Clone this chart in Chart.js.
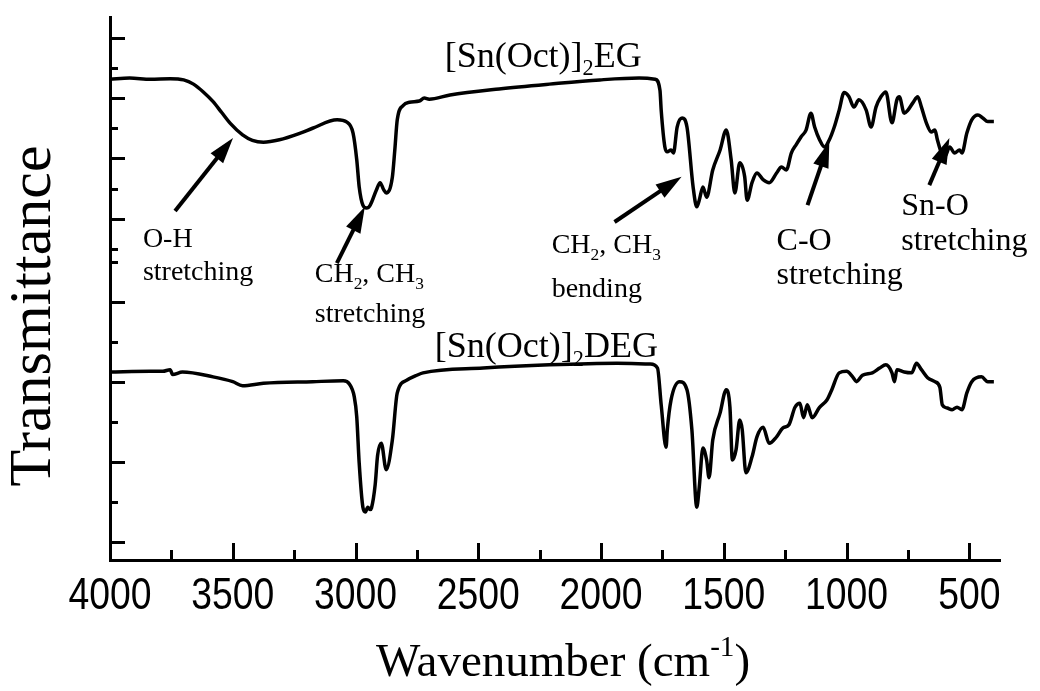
<!DOCTYPE html>
<html>
<head>
<meta charset="utf-8">
<script src="https://cdn.jsdelivr.net/npm/chart.js@4.4.1/dist/chart.umd.min.js"></script>
<style>
  html, body { margin: 0; padding: 0; background: #fff; }
  canvas { display: block; }
</style>
</head>
<body>
<canvas id="ftir" width="1040" height="691"></canvas>
<script>
// FTIR spectra (wavenumber in cm-1, transmittance in a.u. of each layer)
const egWavenumber = [4000, 3920, 3835, 3755, 3700, 3660, 3620, 3580, 3545, 3510, 3460, 3420, 3375, 3310, 3225, 3175, 3075, 3035, 3010, 2995, 2985,
    2970, 2955, 2940, 2915, 2900, 2885, 2875, 2850, 2840, 2830, 2805, 2780, 2740, 2720, 2700, 2615, 2415, 2210, 2005, 1845,
    1780, 1760, 1755, 1740, 1730, 1715, 1705, 1690, 1670, 1650, 1625, 1610, 1600, 1585, 1570, 1545, 1515, 1490, 1470, 1455,
    1435, 1415, 1405, 1385, 1365, 1340, 1315, 1285, 1265, 1245, 1225, 1205, 1185, 1165, 1145, 1130, 1110, 1090, 1070, 1050,
    1030, 1010, 990, 970, 950, 920, 900, 880, 860, 840, 815, 795, 785, 765, 750, 730, 710, 695, 675, 655,
    640, 630, 615, 600, 580, 560, 540, 530, 510, 490, 465, 445, 425, 400];
const egTransmittance = [33.1, 33.3, 33.1, 33.2, 33.0, 32.3, 31.0, 29.4, 27.6, 25.8, 23.9, 23.0, 22.7, 23.1, 24.2, 25.0, 26.4, 26.0, 24.2, 19.8, 15.3,
    12.3, 11.8, 12.3, 14.8, 16.0, 14.8, 14.3, 16.9, 21.4, 26.4, 28.8, 29.3, 29.5, 30.0, 29.8, 30.5, 31.5, 32.3, 33.0, 33.3,
    33.1, 31.3, 28.0, 21.9, 21.1, 21.4, 20.9, 25.2, 26.7, 25.2, 15.3, 12.0, 13.1, 15.3, 13.6, 18.1, 21.4, 24.7, 19.8, 14.3,
    19.3, 17.0, 13.1, 16.0, 17.6, 16.5, 16.0, 17.6, 18.6, 18.1, 20.9, 22.3, 23.6, 24.7, 27.5, 25.2, 23.1, 21.9, 23.1, 25.2,
    28.0, 30.9, 30.2, 28.5, 29.7, 28.0, 25.2, 28.5, 30.2, 31.0, 25.9, 29.7, 30.2, 27.5, 28.0, 29.2, 30.2, 28.5, 25.9, 24.4,
    24.7, 23.1, 21.1, 20.3, 21.9, 20.9, 21.4, 20.9, 24.2, 26.4, 27.2, 26.7, 26.1, 26.1];

const degWavenumber = [4000, 3835, 3785, 3755, 3745, 3705, 3580, 3500, 3460, 3375, 3175, 3050, 3025, 3005, 2995, 2985, 2970, 2960, 2950, 2940,
    2935, 2920, 2910, 2895, 2875, 2850, 2830, 2790, 2750, 2725, 2480, 2210, 1935, 1800, 1770, 1755, 1735, 1730, 1715, 1680,
    1650, 1630, 1610, 1600, 1585, 1570, 1560, 1545, 1515, 1490, 1475, 1465, 1450, 1435, 1425, 1410, 1385, 1365, 1340, 1315,
    1285, 1260, 1235, 1210, 1190, 1175, 1160, 1140, 1110, 1080, 1060, 1030, 1000, 975, 960, 935, 895, 865, 840, 815,
    805, 795, 765, 735, 715, 695, 670, 640, 620, 610, 590, 570, 550, 530, 510, 490, 450, 425, 400];
const degTransmittance = [31.2, 31.3, 31.3, 31.5, 30.9, 31.2, 30.6, 30.0, 29.5, 29.8, 30.0, 30.1, 29.7, 28.1, 25.6, 19.8, 14.3, 13.7, 14.3, 14.0,
    14.2, 17.1, 20.8, 22.3, 19.0, 22.7, 28.6, 30.2, 30.8, 31.1, 31.7, 32.1, 32.3, 32.2, 31.7, 27.1, 21.8, 24.0, 27.7, 30.0,
    29.0, 24.0, 14.3, 16.8, 21.7, 20.2, 18.0, 22.7, 26.1, 29.0, 26.8, 20.2, 21.5, 25.2, 24.0, 18.6, 20.6, 23.1, 24.3, 22.3,
    23.1, 24.2, 24.6, 26.8, 27.3, 25.5, 27.1, 25.5, 26.8, 27.7, 29.0, 31.1, 31.3, 30.6, 30.0, 30.8, 31.1, 31.7, 32.1, 31.1,
    30.0, 31.5, 31.2, 31.1, 32.3, 31.5, 30.5, 30.0, 29.3, 27.1, 26.7, 26.5, 26.8, 26.5, 28.6, 30.0, 30.6, 30.0, 30.0];

const xTickValues = [4000, 3500, 3000, 2500, 2000, 1500, 1000, 500];
const egAxisTicks = [40, 35, 30, 25, 20, 15, 10, 5];
const degAxisTicks = [45, 40, 35, 30, 25, 20, 15, 10];

// text parts: [text, ''|'sub'|'sup']
const egLabel = [['[Sn(Oct)]', ''], ['2', 'sub'], ['EG', '']];
const degLabel = [['[Sn(Oct)]', ''], ['2', 'sub'], ['DEG', '']];
const xTitle = [['Wavenumber (cm', ''], ['-1', 'sup'], [')', '']];
const yTitle = 'Transmittance';
const ch = [['CH', ''], ['2', 'sub'], [', CH', ''], ['3', 'sub']];

// band assignments, placed in wavenumber / EG-layer units
const notes = [
    { lines: [[['O-H', '']], [['stretching', '']]], at: [3866, 5.4], size: 28, gap: 33, from: [3735, 11.3], to: [3499, 23.4] },
    { lines: [ch, [['stretching', '']]], at: [3166, -0.4], size: 28, gap: 40, from: [3076, 2.7], to: [2962, 12.0] },
    { lines: [ch, [['bending', '']]], at: [2201, 4.4], size: 28, gap: 44, from: [1945, 9.5], to: [1672, 17.0] },
    { lines: [[['C-O', '']], [['stretching', '']]], at: [1285, 4.9], size: 32, gap: 34, from: [1159, 12.3], to: [1070, 22.8] },
    { lines: [[['Sn-O', '']], [['stretching', '']]], at: [777, 10.7], size: 32, gap: 35, from: [663, 15.6], to: [581, 23.4] },
];

const ink = '#000';
const serif = '"Liberation Serif", "Times New Roman", serif';
const sans = '"Liberation Sans", Arial, sans-serif';

function drawRich(ctx, parts, x, y, size, measureOnly) {
    let cx = x;
    parts.forEach(([t, mode]) => {
        const s = mode ? size * 0.62 : size;
        const dy = mode === 'sub' ? size * 0.24 : mode === 'sup' ? -size * 0.42 : 0;
        ctx.font = s + 'px ' + serif;
        if (!measureOnly) ctx.fillText(t, cx, y + dy);
        cx += ctx.measureText(t).width;
    });
    return cx - x;
}

function drawArrow(ctx, x1, y1, x2, y2) {
    const a = Math.atan2(y2 - y1, x2 - x1);
    const hl = 26, hw = 8;
    const bx = x2 - hl * Math.cos(a), by = y2 - hl * Math.sin(a);
    ctx.lineWidth = 4;
    ctx.beginPath(); ctx.moveTo(x1, y1); ctx.lineTo(bx + Math.cos(a) * 2, by + Math.sin(a) * 2); ctx.stroke();
    ctx.beginPath();
    ctx.moveTo(x2, y2);
    ctx.lineTo(bx + hw * Math.sin(a), by - hw * Math.cos(a));
    ctx.lineTo(bx - hw * Math.sin(a), by + hw * Math.cos(a));
    ctx.closePath(); ctx.fill();
}

const decorations = {
    id: 'decorations',
    afterDraw(chart) {
        const { ctx, chartArea: a } = chart;
        const { x, yEG, yDEG } = chart.scales;
        ctx.save();
        ctx.strokeStyle = ink;
        ctx.fillStyle = ink;
        ctx.lineWidth = 3;

        const seg = (x1, y1, x2, y2) => { ctx.beginPath(); ctx.moveTo(x1, y1); ctx.lineTo(x2, y2); ctx.stroke(); };

        // inward tick marks on the wavenumber axis
        for (let v = x.max; v >= x.min; v -= 250) {
            const px = Math.round(x.getPixelForValue(v)) + 0.5;
            seg(px, a.bottom, px, a.bottom - (v % 500 === 0 ? 17 : 10));
        }
        // inward tick marks of the two stacked layers
        [[yEG, egAxisTicks], [yDEG, degAxisTicks]].forEach(([s, vals]) => vals.forEach(v => {
            const py = Math.round(s.getPixelForValue(v)) + 0.5;
            seg(a.left, py, a.left + (v % 10 === 0 ? 15 : 8), py);
        }));

        // tick labels in a condensed face (Arial Narrow look)
        ctx.textAlign = 'center';
        ctx.textBaseline = 'alphabetic';
        ctx.font = '45px ' + sans;
        x.ticks.forEach((t, i) => {
            ctx.save();
            ctx.translate(x.getPixelForTick(i), a.bottom + 49);
            ctx.scale(0.83, 1);
            ctx.fillText(String(t.value), 0, 0);
            ctx.restore();
        });

        ctx.textAlign = 'left';

        // layer names
        drawRich(ctx, egLabel, x.getPixelForValue(2637), yEG.getPixelForValue(35.2), 36);
        drawRich(ctx, degLabel, x.getPixelForValue(2677), yDEG.getPixelForValue(33.1), 36);

        // band notes with arrows
        notes.forEach(n => {
            const tx = x.getPixelForValue(n.at[0]);
            const ty = yEG.getPixelForValue(n.at[1]);
            n.lines.forEach((parts, i) => drawRich(ctx, parts, tx, ty + i * n.gap, n.size));
            drawArrow(ctx, x.getPixelForValue(n.from[0]), yEG.getPixelForValue(n.from[1]),
                x.getPixelForValue(n.to[0]), yEG.getPixelForValue(n.to[1]));
        });

        // axis titles
        const w = drawRich(ctx, xTitle, 0, 0, 47, true);
        drawRich(ctx, xTitle, 563 - w / 2, 676, 47);

        ctx.save();
        ctx.translate(50, 316);
        ctx.rotate(-Math.PI / 2);
        ctx.textAlign = 'center';
        ctx.font = '60px ' + serif;
        ctx.fillText(yTitle, 0, 0);
        ctx.restore();

        ctx.restore();
    }
};

const lineStyle = {
    borderColor: ink,
    borderWidth: 3.5,
    pointRadius: 0,
    fill: false,
    cubicInterpolationMode: 'monotone',
};

new Chart(document.getElementById('ftir'), {
    type: 'line',
    data: {
        datasets: [
            { label: '[Sn(Oct)]2EG', yAxisID: 'yEG', ...lineStyle,
              data: egWavenumber.map((w, i) => ({ x: w, y: egTransmittance[i] })) },
            { label: '[Sn(Oct)]2DEG', yAxisID: 'yDEG', ...lineStyle,
              data: degWavenumber.map((w, i) => ({ x: w, y: degTransmittance[i] })) },
        ]
    },
    options: {
        responsive: false,
        animation: false,
        devicePixelRatio: 1,
        layout: { padding: { left: 110, right: 40, top: 17, bottom: 0 } },
        plugins: { legend: { display: false }, tooltip: { enabled: false } },
        scales: {
            x: {
                type: 'linear', reverse: true, min: 375, max: 4000,
                afterBuildTicks: s => { s.ticks = xTickValues.map(v => ({ value: v })); },
                afterFit: s => { s.height = 131; },
                grid: { display: false, drawTicks: false },
                border: { display: true, width: 3, color: ink },
                ticks: { display: false }
            },
            yEG: { type: 'linear', position: 'left', display: false, min: -46.4, max: 43.4 },
            yDEG: {
                type: 'linear', position: 'left', min: 7.7, max: 75.6,
                afterFit: s => { s.width = 0; },
                grid: { display: false, drawTicks: false },
                border: { display: true, width: 3, color: ink },
                ticks: { display: false }
            }
        }
    },
    plugins: [decorations]
});
</script>
</body>
</html>
